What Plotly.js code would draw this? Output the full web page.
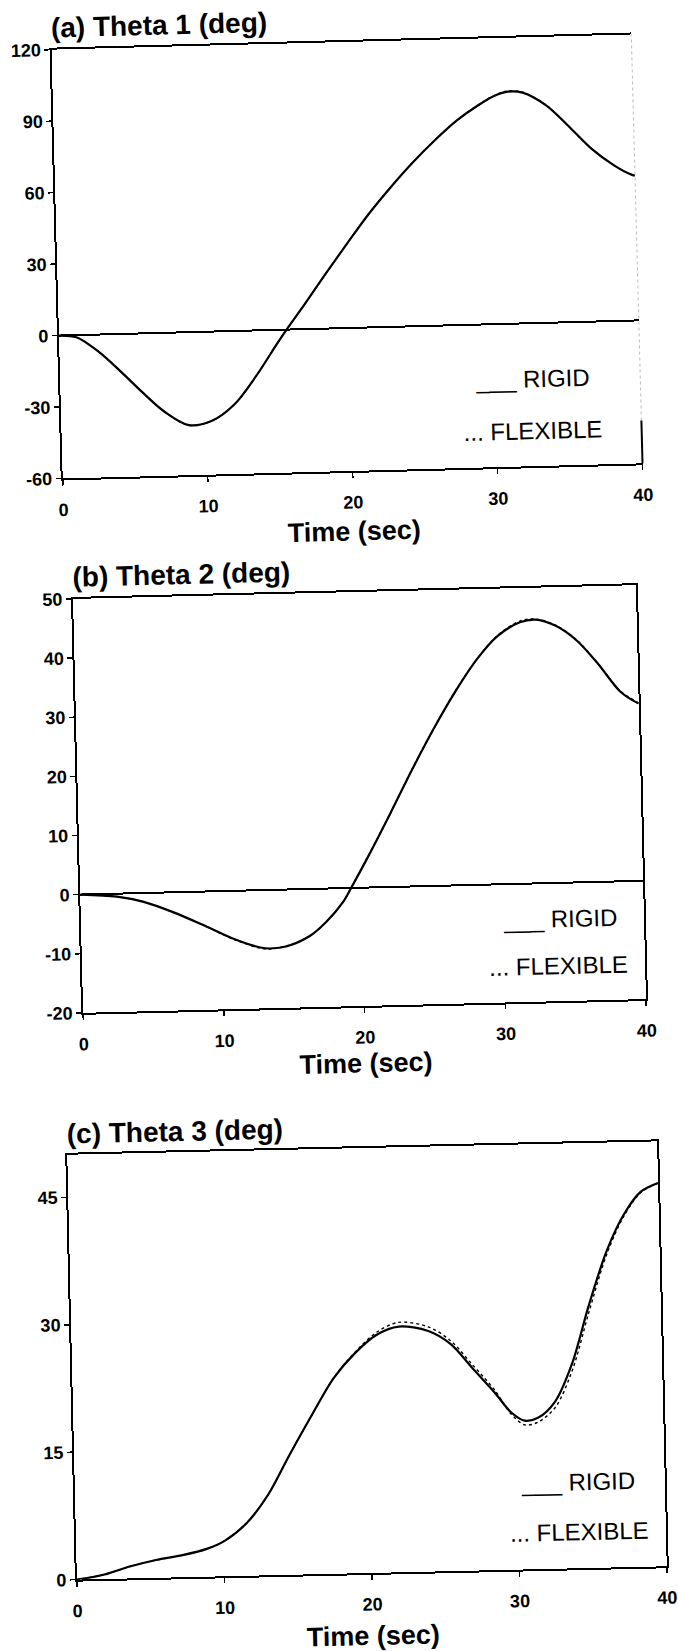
<!DOCTYPE html>
<html>
<head>
<meta charset="utf-8">
<script src="https://cdn.plot.ly/plotly-3.0.1.min.js"></script>
<style>
  html, body { margin: 0; padding: 0; background: #ffffff; }
  #page { position: relative; width: 678px; height: 1651px; overflow: hidden; background: #ffffff; }
  .panel { position: absolute; left: 0; width: 678px; }
</style>
</head>
<body>
<div id="page">
  <div id="pa" class="panel" style="top:0px;height:550px;"></div>
  <div id="pb" class="panel" style="top:550px;height:540px;"></div>
  <div id="pc" class="panel" style="top:1090px;height:561px;"></div>
</div>
<script>
// ---------------- data ----------------
// (a) Theta 1
const timeA = [0, 1.2, 2.7, 4.2, 5.6, 7.1, 8.8, 10.4, 12.0, 13.5, 15.0, 15.7, 17.0, 18.5, 20.1, 21.6, 23.2, 24.7, 26.3, 27.8, 29.4, 30.5, 31.4, 32.4, 34.0, 35.5, 37.0, 38.6, 39.8, 40];
const theta1Rigid = [0, -0.9, -7.2, -15.8, -24.4, -32.9, -39.0, -37.4, -30.6, -19.3, -6.0, 0.0, 10.5, 23.0, 36.0, 47.8, 59.0, 68.7, 78.0, 85.8, 92.3, 95.9, 97.4, 96.8, 91.2, 82.3, 72.8, 65.2, 61.1, 60.8];
const theta1Flexible = [0, -0.9, -7.2, -15.8, -24.4, -32.9, -39.1, -37.4, -30.6, -19.3, -6.0, 0.0, 10.5, 23.0, 36.0, 47.8, 59.0, 68.7, 78.0, 85.8, 92.4, 96.1, 97.7, 97.0, 91.3, 82.3, 72.8, 65.2, 61.1, 60.8];
const ticksA = [-60, -30, 0, 30, 60, 90, 120];

// (b) Theta 2
const timeB = [0, 2.6, 4.5, 6.6, 8.8, 10.9, 12.7, 13.4, 14.6, 16.2, 17.4, 18.7, 19.3, 20.6, 22.2, 23.8, 25.4, 27.0, 28.6, 30.1, 31.7, 32.8, 34.2, 35.7, 37.2, 38.7, 39.9, 40];
const theta2Rigid = [0, -0.5, -1.5, -3.4, -5.8, -8.2, -9.7, -9.9, -9.6, -8.0, -5.7, -2.2, 0.2, 5.6, 12.6, 19.8, 26.6, 32.8, 38.2, 42.0, 44.2, 44.6, 43.5, 40.9, 36.8, 32.1, 30.1, 30.0];
const theta2Flexible = [0, -0.5, -1.5, -3.4, -5.8, -8.3, -9.8, -10.0, -9.5, -8.0, -5.7, -2.2, 0.2, 5.7, 12.6, 19.9, 26.6, 32.9, 38.2, 42.1, 44.4, 44.7, 43.6, 41.0, 36.8, 32.2, 30.2, 30.0];
const ticksB = [-20, -10, 0, 10, 20, 30, 40, 50];

// (c) Theta 3
const timeC = [0, 1.8, 3.6, 5.4, 7.2, 8.9, 10.1, 11.6, 13.1, 14.6, 16.2, 17.7, 19.2, 20.7, 22.2, 24.2, 25.7, 27.1, 28.6, 29.7, 30.6, 31.5, 32.7, 33.9, 35.1, 36.4, 37.6, 38.8, 40.0];
const theta3Rigid = [0, 0.5, 1.4, 2.1, 2.6, 3.3, 4.2, 6.2, 9.5, 14.1, 18.8, 23.0, 25.9, 28.0, 28.9, 28.3, 26.7, 23.9, 20.9, 18.5, 17.5, 17.8, 19.7, 24.1, 30.8, 37.2, 41.4, 44.1, 45.1];
const theta3Flexible = [0, 0.5, 1.4, 2.1, 2.6, 3.3, 4.2, 6.2, 9.5, 14.1, 18.8, 23.0, 26.0, 28.3, 29.4, 28.8, 27.1, 24.3, 21.2, 18.3, 17.0, 17.3, 19.0, 23.3, 30.0, 36.8, 41.2, 44.0, 45.1];
const ticksC = [0, 15, 30, 45];

const timeTicks = [0, 10, 20, 30, 40];
const panelTitles = ["(a) Theta 1 (deg)", "(b) Theta 2 (deg)", "(c) Theta 3 (deg)"];
const xTitle = "Time (sec)";
const legendRigid = "___ RIGID";
const legendFlexible = "... FLEXIBLE";

// ---------------- drawing ----------------
const SANS = "Liberation Sans, Arial, Helvetica, sans-serif";

function makePanel(divId, cfg) {
  const el = document.getElementById(divId);
  const H = cfg.height;
  const traces = [
    { x: cfg.t, y: cfg.rigid, type: "scatter", mode: "lines", name: "RIGID",
      line: { color: "#000", width: 2.2, shape: "spline", smoothing: 0.9 }, showlegend: false },
    { x: cfg.t, y: cfg.flex, type: "scatter", mode: "lines", name: "FLEXIBLE",
      line: { color: "#000", width: 1.4, dash: "dot", shape: "spline", smoothing: 0.9 }, showlegend: false }
  ];
  const shapes = [];
  if (cfg.faintRight) {
    shapes.push({ type: "line", xref: "paper", yref: "paper", x0: 1, x1: 1, y0: 0.1, y1: 1,
                  line: { color: "#bbbbbb", width: 1, dash: "dot" } });
    shapes.push({ type: "line", xref: "paper", yref: "paper", x0: 1, x1: 1, y0: 0, y1: 0.1,
                  line: { color: "#000", width: 2 } });
  }
  const layout = {
    width: 678, height: H,
    margin: cfg.margin,
    paper_bgcolor: "rgba(0,0,0,0)",
    plot_bgcolor: "rgba(0,0,0,0)",
    showlegend: false,
    title: { text: cfg.title, xref: "paper", x: 0, xanchor: "left",
             yref: "container", y: 1 - cfg.titleY / H, yanchor: "middle",
             font: { family: SANS, size: 28, color: "#000", weight: 700 } },
    xaxis: {
      range: [0, 40], tickvals: timeTicks, ticktext: timeTicks.map(String),
      showline: true, linecolor: "#000", linewidth: 2, mirror: true,
      ticks: "outside", ticklen: 5, tickwidth: 1.5, tickcolor: "#000",
      showgrid: false, zeroline: false, ticklabelstandoff: 9,
      tickfont: { family: SANS, size: 18, color: "#000", weight: 700 },
      title: { text: xTitle, standoff: cfg.titleStandoff, font: { family: SANS, size: 27, color: "#000", weight: 700 } },
      fixedrange: true
    },
    yaxis: {
      range: cfg.yrange, tickvals: cfg.yticks, ticktext: cfg.yticks.map(String),
      showline: true, linecolor: "#000", linewidth: 2, mirror: cfg.faintRight ? false : true,
      ticks: "outside", ticklen: 5, tickwidth: 1.5, tickcolor: "#000",
      showgrid: false, zeroline: cfg.zeroline, zerolinecolor: "#000", zerolinewidth: 2,
      tickfont: { family: SANS, size: 18, color: "#000", weight: 700 },
      fixedrange: true
    },
    shapes: shapes,
    annotations: [
      { xref: "paper", yref: "paper", x: cfg.rigidPos[0], y: cfg.rigidPos[1], xanchor: "right", yanchor: "middle",
        text: legendRigid, showarrow: false, font: { family: SANS, size: 24, color: "#000" } },
      { xref: "paper", yref: "paper", x: cfg.flexPos[0], y: cfg.flexPos[1], xanchor: "right", yanchor: "middle",
        text: legendFlexible, showarrow: false, font: { family: SANS, size: 24, color: "#000" } }
    ]
  };
  el.style.transformOrigin = cfg.origin;
  el.style.transform = "rotate(" + cfg.rot + "deg)";
  return Plotly.newPlot(el, traces, layout, { staticPlot: true, displayModeBar: false });
}

makePanel("pa", {
  height: 550, margin: { l: 57, r: 41, t: 42, b: 79 },
  t: timeA, rigid: theta1Rigid, flex: theta1Flexible,
  yrange: [-60, 120], yticks: ticksA, zeroline: true,
  title: panelTitles[0], titleY: 20, faintRight: true, titleStandoff: 10,
  rigidPos: [0.915, 0.204], flexPos: [0.936, 0.082],
  origin: "347px 256.5px", rot: -1.5
});

makePanel("pb", {
  height: 540, margin: { l: 78, r: 37, t: 42, b: 84 },
  t: timeB, rigid: theta2Rigid, flex: theta2Flexible,
  yrange: [-20, 50], yticks: ticksB, zeroline: true,
  title: panelTitles[1], titleY: 20, faintRight: false, titleStandoff: 7,
  rigidPos: [0.955, 0.199], flexPos: [0.974, 0.086],
  origin: "359.5px 249px", rot: -1.4
});

makePanel("pc", {
  height: 561, margin: { l: 72, r: 16, t: 58, b: 78 },
  t: timeC, rigid: theta3Rigid, flex: theta3Flexible,
  yrange: [0, 50], yticks: ticksC, zeroline: false,
  title: panelTitles[2], titleY: 37, faintRight: false, titleStandoff: 14,
  rigidPos: [0.953, 0.204], flexPos: [0.975, 0.087],
  origin: "367px 270.5px", rot: -1.3
});
</script>
</body>
</html>
